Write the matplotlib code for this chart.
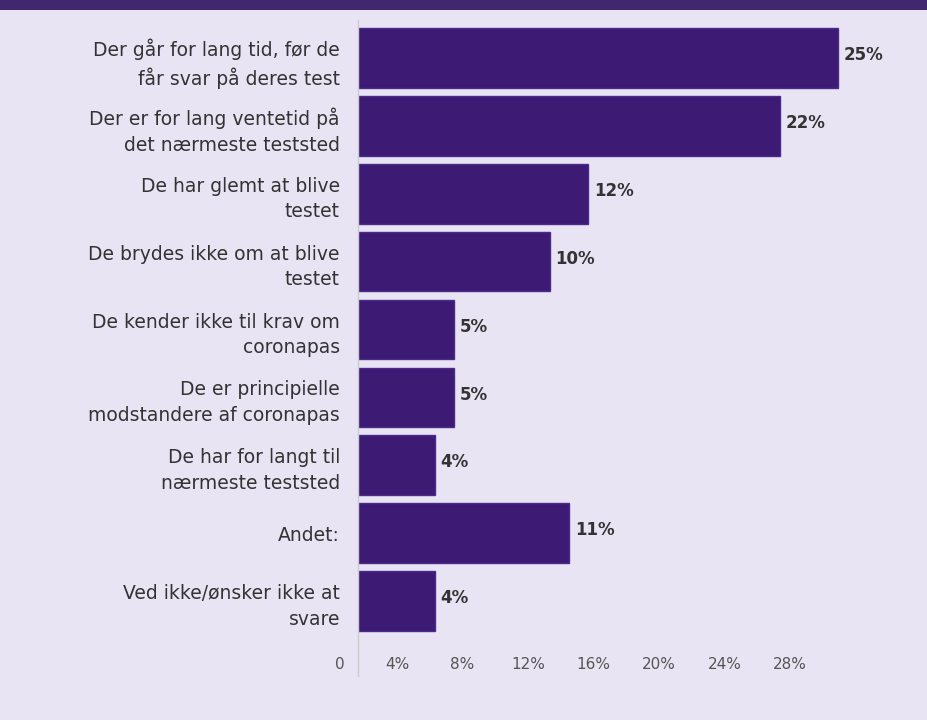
import matplotlib
matplotlib.use("Agg")
import matplotlib.pyplot as plt

categories = [
    "Der går for lang tid, før de\nfår svar på deres test",
    "Der er for lang ventetid på\ndet nærmeste teststed",
    "De har glemt at blive\ntestet",
    "De brydes ikke om at blive\ntestet",
    "De kender ikke til krav om\ncoronapas",
    "De er principielle\nmodstandere af coronapas",
    "De har for langt til\nnærmeste teststed",
    "Andet:",
    "Ved ikke/ønsker ikke at\nsvare",
]
values = [25, 22, 12, 10, 5, 5, 4, 11, 4]
value_labels = ["25%", "22%", "12%", "10%", "5%", "5%", "4%", "11%", "4%"]
tick_values = [4, 8, 12, 16, 20, 24, 28]
tick_labels = ["4%", "8%", "12%", "16%", "20%", "24%", "28%"]
zero_label = "0"

BG = "#e8e4f4"
BAR = "#3d1b74"
TEXT = "#333333"

plt.rcParams['font.family'] = ['DejaVu Sans']

W, H = 928, 720
fig = plt.figure(figsize=(W / 100, H / 100), dpi=100)
fig.patch.set_facecolor(BG)

# top band
band = fig.add_axes([0, 1 - 10 / H, 1, 10 / H])
band.set_facecolor("#3f2870")
band.set_xticks([]); band.set_yticks([])
for s in band.spines.values():
    s.set_visible(False)

left_px, right_px = 358, 885
top_px, bot_px = 20, 642
ax = fig.add_axes([left_px / W, 1 - bot_px / H, (right_px - left_px) / W, (bot_px - top_px) / H])
ax.set_facecolor(BG)

px_per_pct = 19.2
ax.set_xlim(0, (right_px - left_px) / px_per_pct)
pitch = 67.9
ax.set_ylim(8 + (bot_px - 601) / pitch, -(58 - top_px) / pitch)

ypos = list(range(len(values)))
ax.barh(ypos, values, height=0.88, color=BAR, edgecolor="#4a2a8a", linewidth=1)

for y, v, lab in zip(ypos, values, value_labels):
    ax.annotate(lab, (v, y), xytext=(4, 2), textcoords="offset points",
                va="center", ha="left", fontsize=12, fontweight="bold", color=TEXT)

ax.set_yticks(ypos)
ax.set_yticklabels(categories, fontsize=13.5, color=TEXT, linespacing=1.45, ha="right")
ax.tick_params(axis="y", length=0, pad=13)
ax.tick_params(axis="x", length=0, labelbottom=False)
for s in ["top", "right", "bottom", "left"]:
    ax.spines[s].set_visible(False)
ax.axvline(0, ymin=-0.055, ymax=1.0, color="#cccccc", linewidth=1, clip_on=False)

# tick axis (scale shown in the original chart)
a_px = 331.5 - left_px
b_px = 16.375

def fwd(p):
    return (p * px_per_pct - a_px) / b_px

def inv(v):
    return (v * b_px + a_px) / px_per_pct

sec = ax.secondary_xaxis("bottom", functions=(fwd, inv))
sec.set_xticks(tick_values)
sec.set_xticklabels(tick_labels, fontsize=11, color="#555555")
sec.tick_params(length=0, pad=11)
sec.spines["bottom"].set_visible(False)

ax.annotate(zero_label, xy=(0, 0), xycoords=("data", "axes fraction"),
            xytext=(-13, -11), textcoords="offset points", ha="center", va="top",
            fontsize=11, color="#555555")

fig.savefig("out.png", dpi=100, facecolor=BG)
